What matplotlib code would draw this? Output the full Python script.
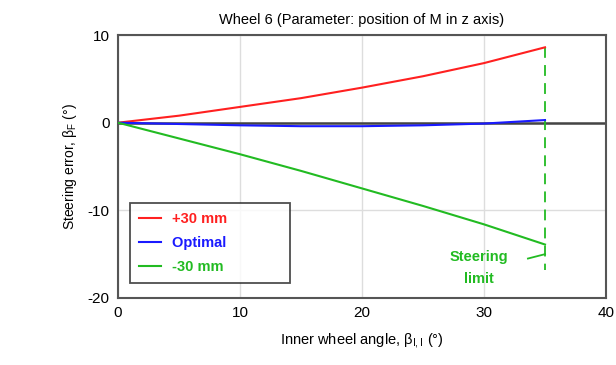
import numpy as np
from matplotlib import pyplot as plt

plt.rcParams['font.family'] = ['Liberation Sans', 'DejaVu Sans']
plt.rcParams['axes.unicode_minus'] = False
plt.rcParams['mathtext.default'] = 'regular'

# inner wheel angle (deg) and steering error (deg) for each M position
angle = [0, 5, 10, 15, 20, 25, 30, 35]
err_plus30 = [0, 0.8, 1.8, 2.8, 4.0, 5.3, 6.8, 8.6]
err_optimal = [0, -0.15, -0.3, -0.4, -0.4, -0.3, -0.1, 0.3]
err_minus30 = [0, -1.8, -3.6, -5.5, -7.5, -9.5, -11.6, -13.9]
labels = ["+30 mm", "Optimal", "-30 mm"]
colors = ["#ff2020", "#1a1aff", "#22bb22"]
steer_limit = 35

fig = plt.figure(figsize=(6.16, 3.65), dpi=100)
ax = fig.add_axes([0.1916, 0.1836, 0.7922, 0.7204])

ax.axhline(0, color="#444444", lw=1.8, zorder=1)
lines = []
for y, c in zip([err_plus30, err_optimal, err_minus30], colors):
    ln, = ax.plot(angle, y, color=c, lw=1.5, zorder=3)
    lines.append(ln)

# steering limit marker
ax.plot([steer_limit, steer_limit], [err_plus30[-1], -16.8], color=colors[2],
        lw=1.3, ls=(0, (6, 4)), zorder=2)
ax.plot([33.6, steer_limit], [-15.5, -15.0], color=colors[2], lw=1.3)
ax.text(29.6, -16.6, "Steering\nlimit", color=colors[2], ha="center",
        va="center", fontsize=10.5, fontweight="bold", linespacing=1.7)

ax.set_xlim(0, 40)
ax.set_ylim(-20, 10)
ax.set_xticks([0, 10, 20, 30, 40])
ax.set_yticks([-20, -10, 0, 10])
ax.grid(True, color="#dddddd", lw=1)
ax.set_axisbelow(True)
ax.tick_params(length=0, labelsize=11, pad=6)
for s in ax.spines.values():
    s.set_color("#555555")
    s.set_linewidth(1.5)

ax.set_title("Wheel 6 (Parameter: position of M in z axis)", fontsize=10.5,
             pad=8)
ax.set_xlabel(r"Inner wheel angle, $\beta_{I,I}$ (°)", fontsize=10.5, labelpad=8)
ax.set_ylabel(r"Steering error, $\beta_F$ (°)", fontsize=10, labelpad=6)

leg = ax.legend(lines, [l + "             " for l in labels], loc="lower left",
                bbox_to_anchor=(0.01, 0.03), fontsize=10.5, frameon=True,
                fancybox=False, handlelength=1.5, labelspacing=0.7,
                borderpad=0.6, handletextpad=0.8)
leg.get_frame().set_edgecolor("#222222")
leg.get_frame().set_linewidth(1.3)
for t, c in zip(leg.get_texts(), colors):
    t.set_color(c)
    t.set_fontweight("bold")

plt.savefig("out.png", dpi=100)
